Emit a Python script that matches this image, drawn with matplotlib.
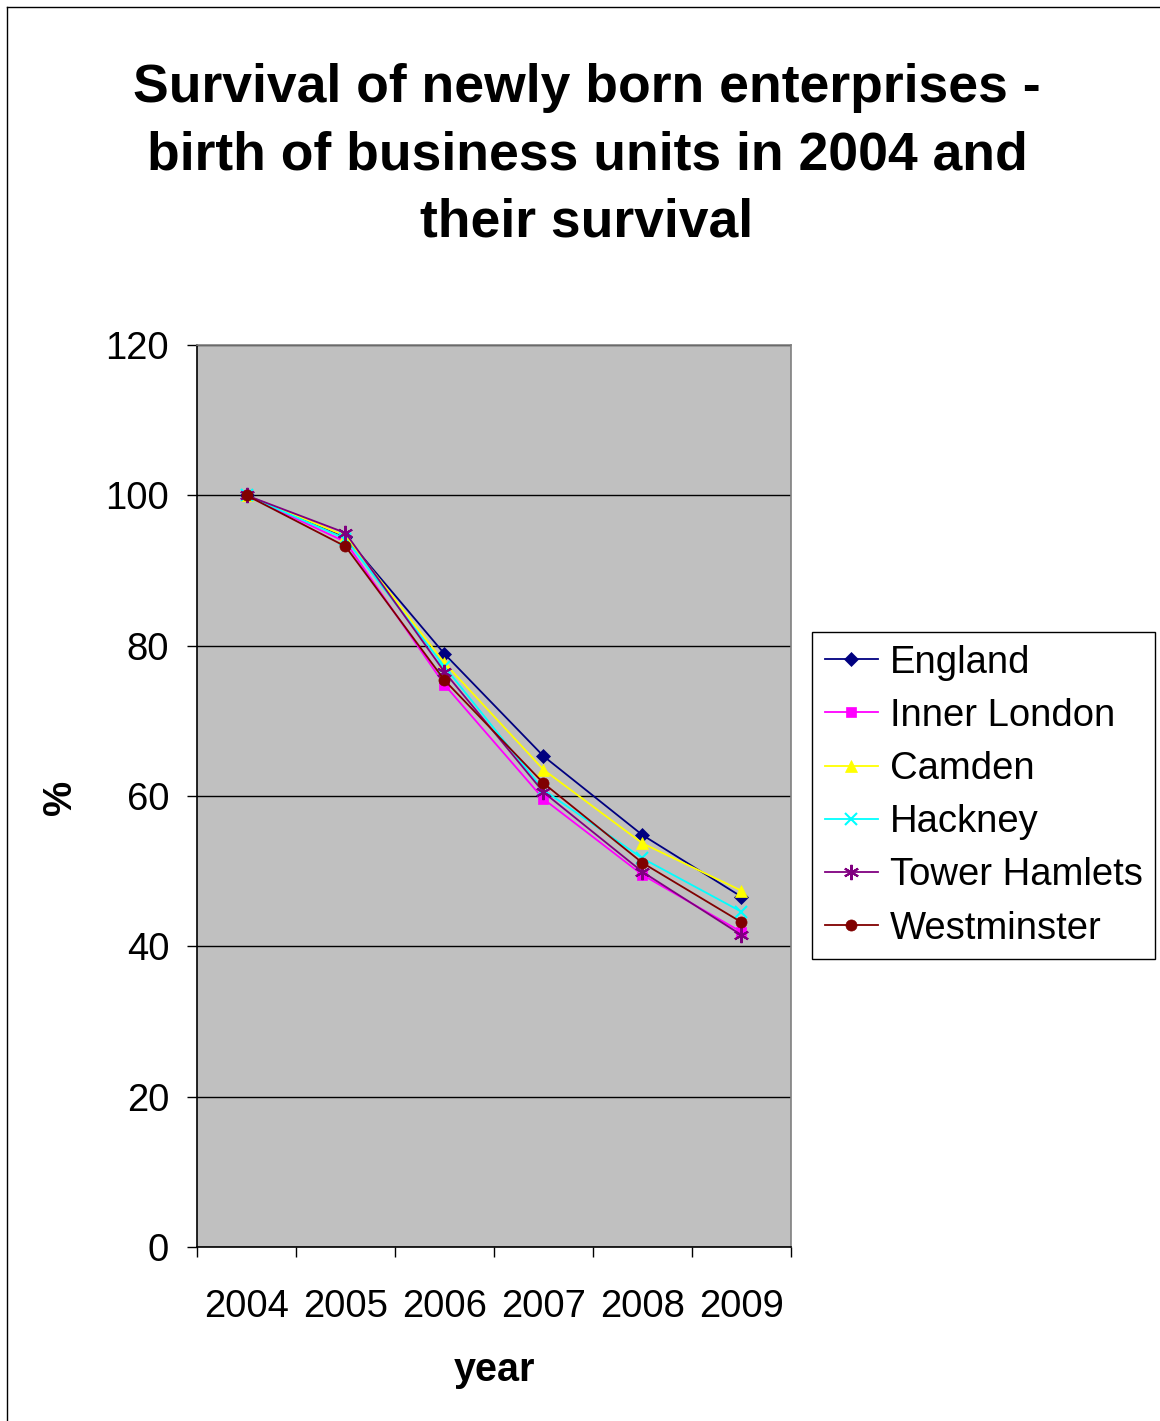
import numpy as np
import matplotlib.pyplot as plt
from matplotlib.lines import Line2D

plt.rcParams['font.family'] = ['Liberation Sans', 'DejaVu Sans']

# ---- data ----
years = ['2004', '2005', '2006', '2007', '2008', '2009']
england = [100, 94.5, 78.9, 65.3, 54.8, 46.6]
inner_london = [100, 93.8, 74.8, 59.6, 49.5, 41.9]
camden = [100, 94.6, 77.7, 63.5, 53.7, 47.4]
hackney = [100, 94.2, 77.2, 60.8, 51.7, 44.6]
tower_hamlets = [100, 95.0, 76.5, 60.5, 49.9, 41.5]
westminster = [100, 93.2, 75.4, 61.7, 51.1, 43.2]

series = [
    ("England", england, '#000080', 'D', 7.5),
    ("Inner London", inner_london, '#FF00FF', 's', 7.5),
    ("Camden", camden, '#FFFF00', '^', 9),
    ("Hackney", hackney, '#00FFFF', 'x', 8.5),
    ("Tower Hamlets", tower_hamlets, '#800080', (6, 2, 0), 11),
    ("Westminster", westminster, '#800000', 'o', 8),
]

W, H = 1160, 1421
fig = plt.figure(figsize=(W / 100, H / 100), dpi=100)
fig.patch.set_facecolor('white')

ax = fig.add_axes([197 / W, 1 - 1247 / H, 594 / W, 902 / H])
ax.set_facecolor('#C0C0C0')

x = np.arange(len(years)) + 0.5
for name, vals, col, mk, ms in series:
    ax.plot(x, vals, color=col, marker=mk, markersize=ms, linewidth=1.3,
            markeredgewidth=1.5 if mk in ('x', (6, 2, 0)) else 0.5,
            markeredgecolor=col, label=name, clip_on=False)

ax.set_xlim(0, len(years))
ax.set_ylim(0, 120)
ax.set_yticks(np.arange(0, 121, 20))
ax.set_xticks(np.arange(0, len(years) + 1))
ax.set_xticklabels([])
ax.set_xticks(x, minor=True)
ax.set_xticklabels(years, minor=True)
ax.tick_params(axis='x', which='minor', length=0, pad=30, labelsize=27.5)
ax.tick_params(axis='x', which='major', length=7, direction='out', width=1)
ax.tick_params(axis='y', length=7, direction='out', width=1, labelsize=27.5, pad=13)
ax.yaxis.grid(True, color='black', linewidth=1)
ax.set_axisbelow(True)

ax.spines['top'].set_color('#808080')
ax.spines['right'].set_color('#808080')
ax.spines['left'].set_color('black')
ax.spines['bottom'].set_color('black')
for s in ax.spines.values():
    s.set_linewidth(1.2)

ax.set_ylabel('%', fontsize=28.5, fontweight='bold', va='center')
ax.yaxis.set_label_coords((60 - 197) / 594, (1247 - 797) / 902)
ax.set_xlabel('year', fontsize=28.5, fontweight='bold', va='center')
ax.xaxis.set_label_coords(0.5, (1247 - 1370) / 902)

fig.text(587 / W, 1 - 155 / H,
         "Survival of newly born enterprises -\nbirth of business units in 2004 and\ntheir survival",
         ha='center', va='center', fontsize=38.5, fontweight='bold', linespacing=1.44)

leg = ax.legend(loc='upper left', bbox_to_anchor=(812 / W, 1 - 632 / H),
                bbox_transform=fig.transFigure, borderaxespad=0,
                fontsize=27.5, frameon=True, fancybox=False, framealpha=1,
                edgecolor='black', handlelength=1.4, handletextpad=0.3,
                labelspacing=0.45, borderpad=0.33)
leg.get_frame().set_linewidth(1)

# outer chart border
fig.add_artist(Line2D([7 / W, 7 / W], [0, 1 - 7 / H], color='black', lw=1))
fig.add_artist(Line2D([7 / W, 1], [1 - 7 / H, 1 - 7 / H], color='black', lw=1))

fig.savefig('out.png', dpi=100)
